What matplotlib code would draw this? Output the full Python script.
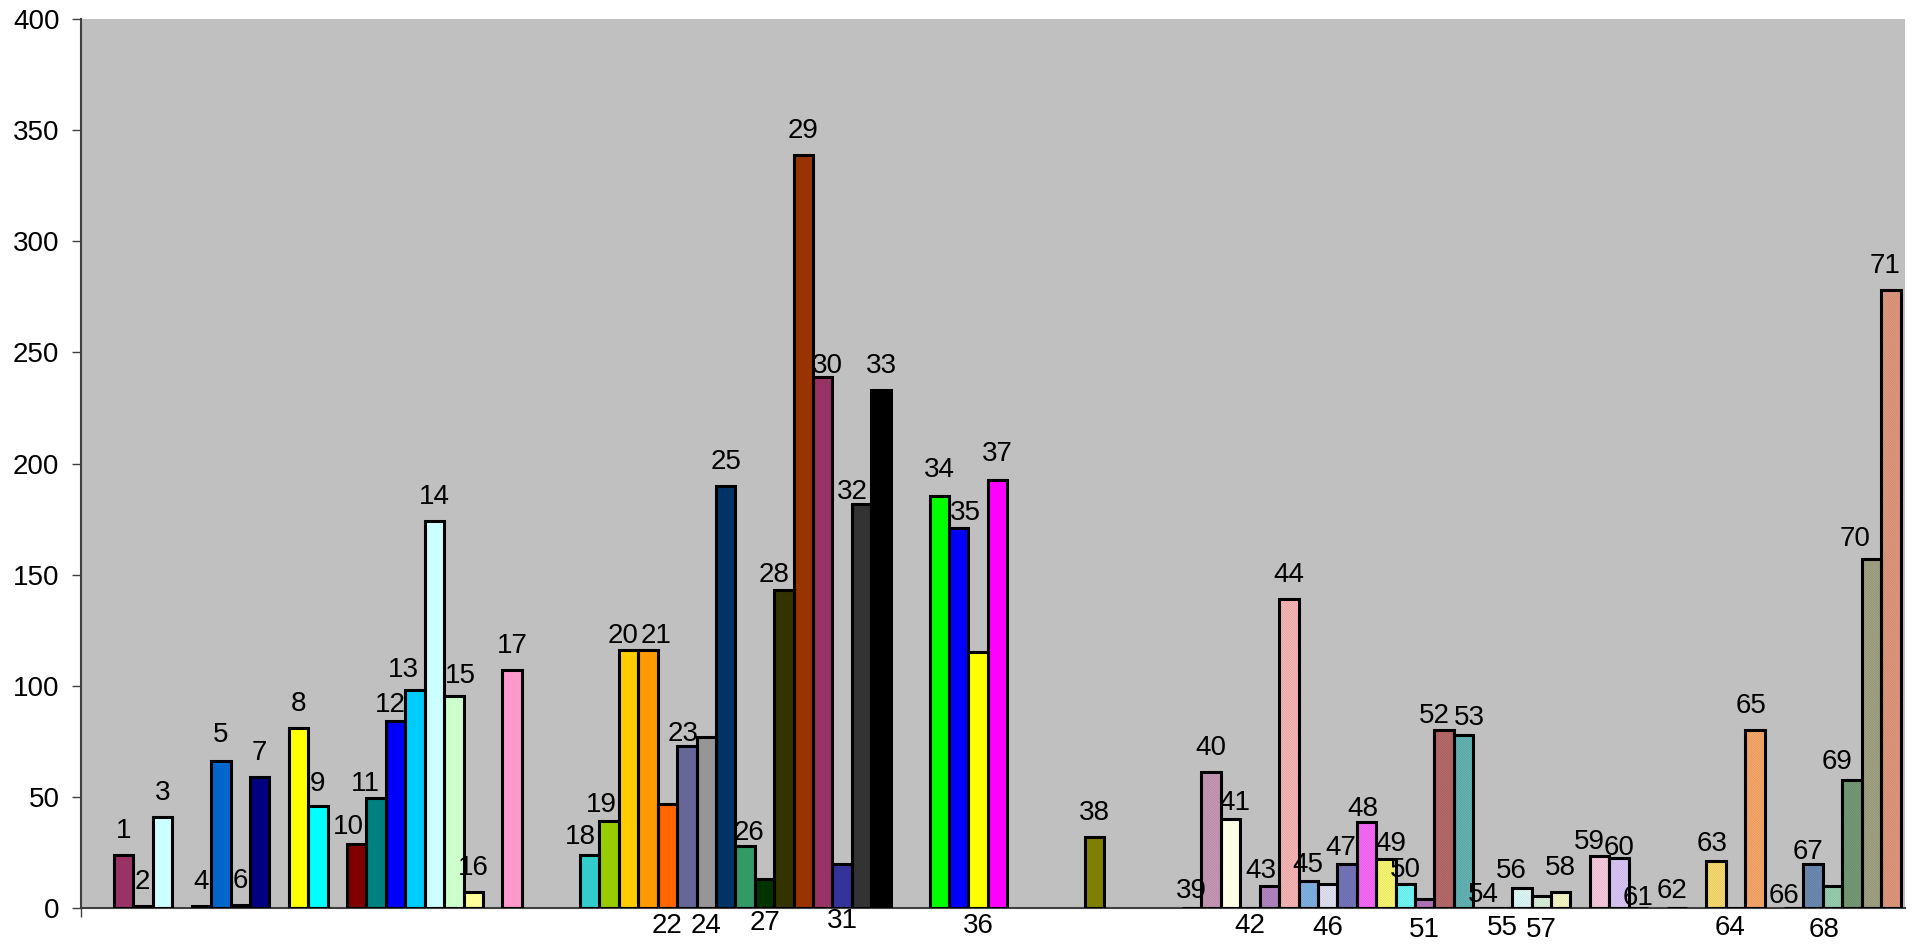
import matplotlib
matplotlib.use("Agg")
import matplotlib.pyplot as plt
import matplotlib.colors as mcolors
import numpy as np

plt.rcParams["font.family"] = ["Liberation Sans", "DejaVu Sans"]
plt.rcParams["hatch.linewidth"] = 0.3

# bar numbers and heights
bar_ids = list(range(1, 72))
heights = [
    24, 1, 41, 1, 66, 1.5, 59, 81, 46, 29,
    49.5, 84, 98, 174, 95.5, 7, 107, 24, 39, 116,
    116, 47, 73, 77, 190, 28, 13, 143, 339, 239,
    20, 182, 233, 185.5, 171, 115, 192.5, 32, 0, 61,
    40, 0, 10, 139, 12, 11, 20, 38.5, 22, 11,
    4, 80, 78, 0, 0, 9, 5.5, 7, 23.5, 22.5,
    0, 0, 21, 0, 80, 0, 20, 10, 57.5, 157,
    278,
]
bar_colors = [
    "#993366", "#1a1a40", "#CCFFFF", "#000040", "#0066CC", "#CCCCFF", "#000080", "#FFFF00", "#00FFFF", "#800000",
    "#008080", "#0000FF", "#00CCFF", "#CCFFFF", "#CCFFCC", "#FFFF99", "#FF99CC", "#33CCCC", "#99CC00", "#FFCC00",
    "#FF9900", "#FF6600", "#666699", "#969696", "#003366", "#339966", "#003300", "#333300", "#993300", "#993366",
    "#333399", "#333333", "#000000", "#00FF00", "#0000FF", "#FFFF00", "#FF00FF", "#808000", "#C0C0C0", "#CC9CBC",
    "#FFFFE6", "#C0C0C0", "#B888C8", "#FFBABA", "#84B6EA", "#E8E8FC", "#7878C0", "#FF6CFF", "#FFFF74", "#74FFFF",
    "#B878C0", "#BC6C6C", "#66B8B8", "#C0C0C0", "#C0C0C0", "#E4FFFF", "#E0F8E0", "#FFFFCC", "#FFD0E4", "#E0CCFF",
    "#C0C0C0", "#C0C0C0", "#FFE070", "#C0C0C0", "#FFAC6C", "#C0C0C0", "#6E8EB6", "#9CD4B4", "#789E78", "#A6A686",
    "#E49C80",
]
# bars filled with the fine dotted pattern
patterned = {40, 43, 44, 45, 46, 47, 48, 49, 50, 51, 52, 53, 56, 57, 58,
             59, 60, 63, 65, 67, 68, 69, 70, 71}
# labels written under the axis instead of over the bar
below = {22, 24, 27, 31, 36, 42, 46, 51, 55, 57, 64, 68}

# empty category slots in front of a bar
gaps = {4: 1, 8: 1, 10: 1, 17: 1, 18: 3, 34: 2, 38: 4, 39: 4,
        59: 1, 62: 1, 63: 1, 66: 1}

# label nudges in pixels: horizontal shift, and distance above the bar top
label_dx = {2: -1, 10: -8, 11: -11, 12: -5, 13: -12, 15: 7, 18: -9, 19: -8,
            20: -6, 21: 8, 23: -4, 26: 4, 28: -10, 30: 5, 32: -9, 35: 7,
            41: 4, 43: -9, 47: -6, 48: -4, 49: 5, 52: -10, 53: 6, 56: -11,
            59: -10, 62: -5, 63: -4, 64: -5, 65: -4, 66: -10, 67: -5,
            68: -8, 69: -15, 70: -16, 71: -6}
label_gap = {5: 19, 9: 15, 10: 10, 11: 7, 12: 9, 13: 13, 15: 13, 18: 11,
             19: 9, 20: 7, 21: 7, 23: 5, 26: 6, 28: 8, 30: 4, 32: 5,
             34: 19, 35: 8, 37: 19, 39: 10, 41: 9, 43: 8, 45: 9, 47: 9,
             48: 6, 49: 8, 50: 7, 52: 7, 53: 10, 54: 6, 56: 10, 59: 7,
             60: 3, 61: 3, 62: 10, 63: 10, 66: 5, 67: 5, 69: 11, 70: 13}
below_gap = {27: 22, 31: 20, 46: 27, 51: 29, 55: 27, 57: 29, 64: 27, 68: 29}

# x slot of every bar
xpos = []
slot = 0
for n in bar_ids:
    slot += gaps.get(n, 0)
    xpos.append(slot)
    slot += 1
xpos = np.array(xpos)

fig = plt.figure(figsize=(19.19, 9.44), dpi=100)
ax = fig.add_axes([0.0422, 0.0381, 0.9505, 0.9417])
ax.set_facecolor("#C0C0C0")

for x, h, c, n in zip(xpos, heights, bar_colors, bar_ids):
    if n in patterned:
        dots = np.array(mcolors.to_rgb(c)) * 0.88
        ax.bar(x, h, width=1.0, color=c, edgecolor=dots, linewidth=0,
               hatch="x" * 14, zorder=2)
    else:
        ax.bar(x, h, width=1.0, color=c, linewidth=0, zorder=2)

# outlines on top so zero-height bars show as a dark line
ax.bar(xpos, heights, width=1.0, fill=False, edgecolor="black",
       linewidth=2.2, zorder=3)

fs = 20
for x, h, n in zip(xpos, heights, bar_ids):
    dx = label_dx.get(n, 0)
    if n in below:
        ax.annotate(str(n), xy=(x, 0), xytext=(dx, -below_gap.get(n, 25)),
                    textcoords="offset pixels", ha="center", va="baseline",
                    fontsize=fs, annotation_clip=False)
    else:
        ax.annotate(str(n), xy=(x, h), xytext=(dx, label_gap.get(n, 17)),
                    textcoords="offset pixels", ha="center", va="baseline",
                    fontsize=fs, annotation_clip=False)

ax.set_xlim(-2.2, 91.73)
ax.set_ylim(0, 400)
ax.set_yticks(np.arange(0, 401, 50))
ax.set_xticks([-2.2])
ax.set_xticklabels([])
ax.tick_params(axis="y", length=6.5, width=1, pad=9, labelsize=fs,
               color="#404040", direction="out")
ax.tick_params(axis="x", length=6.5, width=1, color="#404040", direction="out")
for side in ["top", "right"]:
    ax.spines[side].set_visible(False)
for side in ["left", "bottom"]:
    ax.spines[side].set_color("#404040")
    ax.spines[side].set_linewidth(1.5)
ax.spines["left"].set_zorder(4)

fig.savefig("out.png", dpi=100, facecolor="white")
